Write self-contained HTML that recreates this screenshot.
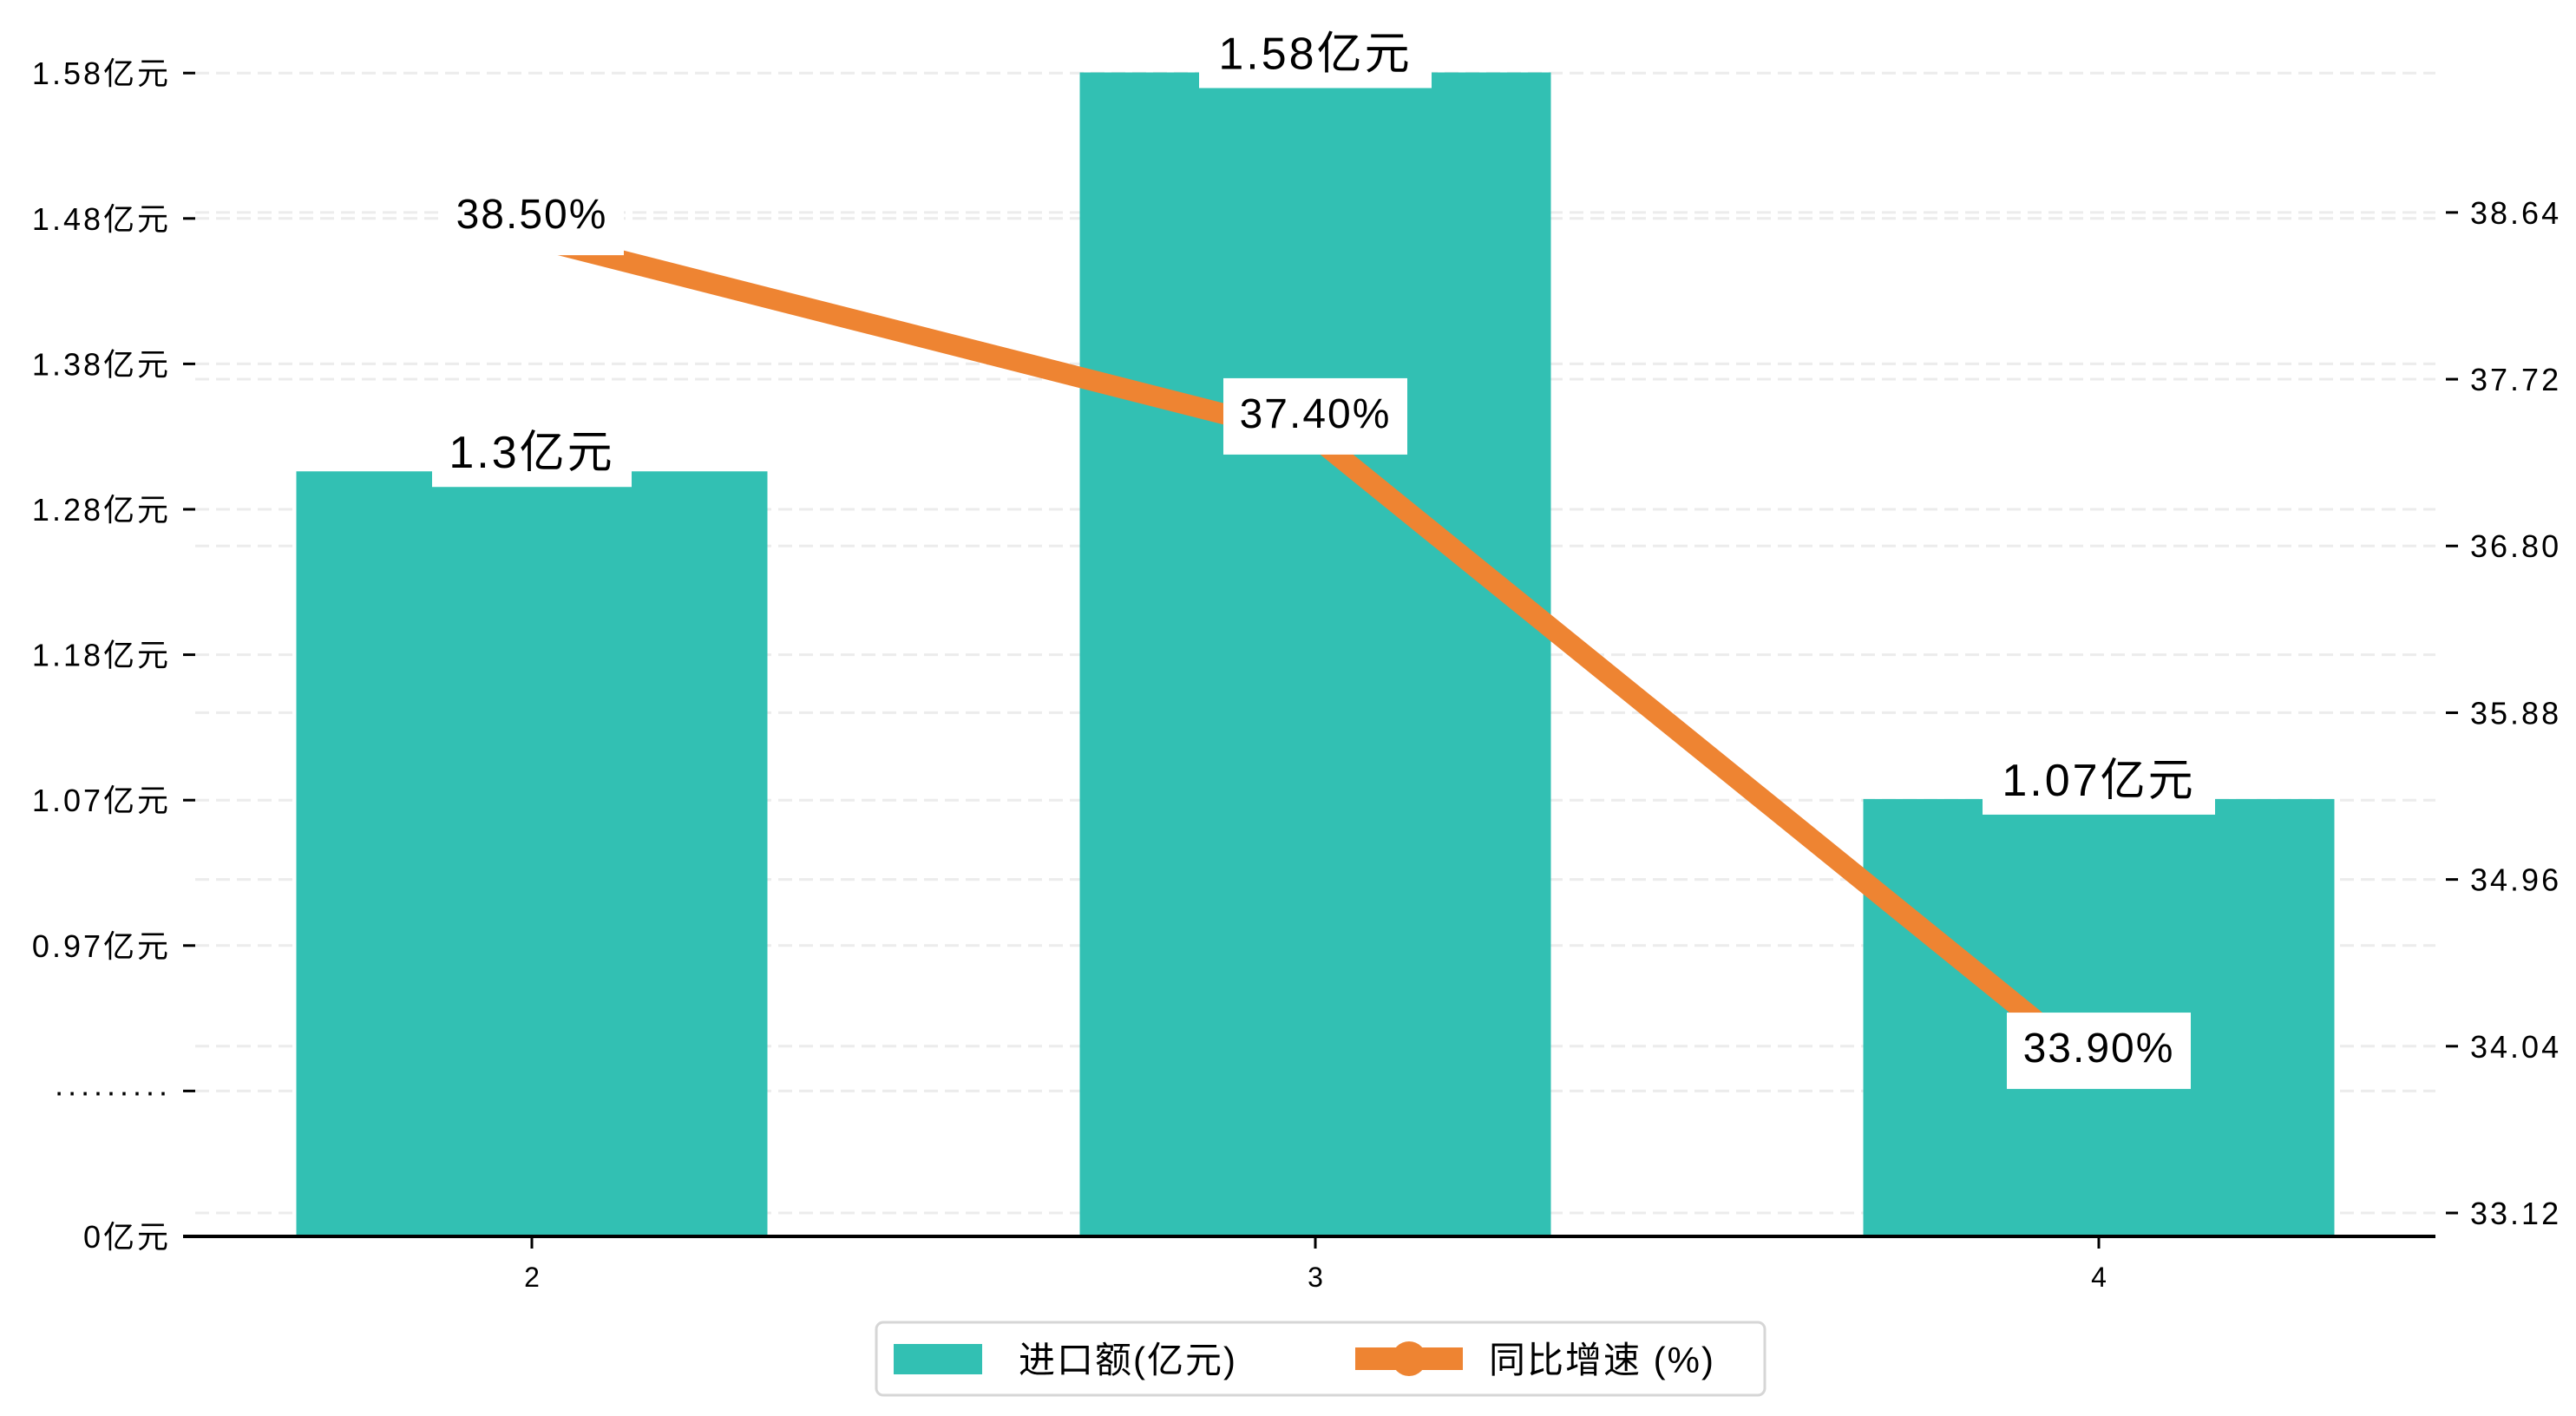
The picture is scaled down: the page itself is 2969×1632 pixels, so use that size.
<!DOCTYPE html>
<html><head><meta charset="utf-8">
<style>
html,body{margin:0;padding:0;background:#fff;}
svg{display:block;font-family:"Liberation Sans","WenQuanYi Zen Hei","Noto Sans CJK SC",sans-serif;}
</style></head>
<body>
<svg id="chart" width="2969" height="1632" viewBox="0 0 2969 1632" xmlns="http://www.w3.org/2000/svg">
<g id="grid"></g>
<g id="bars"></g>
<g id="line"></g>
<g id="axes"></g>
<g id="labels"></g>
<g id="legend">
  <rect x="1010" y="1524" width="1024" height="84" rx="8" fill="#fff" stroke="#d6d6d6" stroke-width="3"/>
  <rect x="1030" y="1549" width="102" height="35" fill="#32c0b3"/>
  <text x="1174" y="1582" font-size="42" fill="#000" letter-spacing="2">进口额(亿元)</text>
  <line x1="1562" y1="1566" x2="1686" y2="1566" stroke="#ee8432" stroke-width="26"/>
  <circle cx="1624" cy="1566" r="20" fill="#ee8432"/>
  <text x="1716" y="1582" font-size="42" fill="#000" letter-spacing="2">同比增速 (%)</text>
</g>
</svg>
<script>
const categories = ["2", "3", "4"];
const importValues = [1.3, 1.58, 1.07];
const growthValues = [38.5, 37.4, 33.9];
const leftTickLabels = ["0亿元", "·········", "0.97亿元", "1.07亿元", "1.18亿元", "1.28亿元", "1.38亿元", "1.48亿元", "1.58亿元"];
const rightTicks = [33.12, 34.04, 34.96, 35.88, 36.80, 37.72, 38.64];

const NS = "http://www.w3.org/2000/svg";
const X0 = 225, X1 = 2807, Y0 = 1425;
const catStep = 903, catStart = 613, barW = 543;
function xPos(i){ return catStart + i * catStep; }
function yLeft(v){ return Y0 - (v - 0.763) * 1642; }
function yRight(v){ return 1398 - (v - 33.12) * 208.9; }
function yLeftTick(i){ return Y0 - i * 167.6; }
function mk(tag, attrs, parent){
  const e = document.createElementNS(NS, tag);
  for (const k in attrs) e.setAttribute(k, attrs[k]);
  parent.appendChild(e); return e;
}
const grid = document.getElementById('grid');
const bars = document.getElementById('bars');
const lineG = document.getElementById('line');
const axes = document.getElementById('axes');
const labels = document.getElementById('labels');

leftTickLabels.forEach((lab, i) => {
  const y = yLeftTick(i);
  if (i > 0) {
    const g = mk('line', {x1: X0, x2: X1, y1: y, y2: y, stroke: '#ececec', 'stroke-width': 3, 'stroke-dasharray': '16 8'}, grid);
    
    
  }
  const t = mk('line', {x1: X0 - 14, x2: X0, y1: y, y2: y, stroke: '#000', 'stroke-width': 3}, axes);
  
  
  const tx = mk('text', {x: X0 - 28, y: y + 13, 'font-size': 36, 'text-anchor': 'end', fill: '#000', 'letter-spacing': 3}, axes);
  
  
  tx.textContent = lab;
});
rightTicks.forEach(v => {
  const y = yRight(v);
  const g = mk('line', {x1: X0, x2: X1, y1: y, y2: y, stroke: '#ececec', 'stroke-width': 3, 'stroke-dasharray': '16 8'}, grid);
  
  
  const t = mk('line', {x1: X1 + 12, x2: X1 + 26, y1: y, y2: y, stroke: '#000', 'stroke-width': 3}, axes);
  
  
  const tx = mk('text', {x: X1 + 40, y: y + 13, 'font-size': 36, fill: '#000', 'letter-spacing': 3}, axes);
  
  
  tx.textContent = v.toFixed(2);
});
importValues.forEach((v, i) => {
  const x = xPos(i), y = yLeft(v);
  const r = mk('rect', {x: x - barW / 2, y: y, width: barW, height: Y0 - y, fill: '#32c0b3'}, bars);
  
  
  const lbl = v + '亿元';
  const w = lbl.length * 38 + 40;
  const bg = mk('rect', {x: x - w / 2, y: y - 50, width: w, height: 68, fill: '#fff'}, labels);
  
  
  const t = mk('text', {x: x, y: y - 4, 'font-size': 52, 'text-anchor': 'middle', fill: '#000', 'letter-spacing': 3}, labels);
  
  
  t.textContent = lbl;
});
const pts = growthValues.map((v, i) => xPos(i) + ',' + yRight(v)).join(' ');
const pl = mk('polyline', {points: pts, fill: 'none', stroke: '#ee8432', 'stroke-width': 24, 'stroke-linejoin': 'round'}, lineG);


growthValues.forEach((v, i) => {
  const x = xPos(i), y = yRight(v);
  const c = mk('circle', {cx: x, cy: y, r: 18, fill: '#ee8432'}, lineG);
  
  
  const ly = y - 28;
  const bg = mk('rect', {x: x - 106, y: ly - 40, width: 212, height: 88, fill: '#fff'}, labels);
  
  
  const t = mk('text', {x: x, y: ly + 17, 'font-size': 48, 'text-anchor': 'middle', fill: '#000', 'letter-spacing': 2}, labels);
  
  
  t.textContent = v.toFixed(2) + '%';
});
const ax = mk('line', {x1: X0 - 14, x2: X1, y1: Y0, y2: Y0, stroke: '#000', 'stroke-width': 4}, axes);


categories.forEach((c, i) => {
  const x = xPos(i);
  const t = mk('line', {x1: x, x2: x, y1: Y0, y2: Y0 + 14, stroke: '#000', 'stroke-width': 3}, axes);
  
  
  const tx = mk('text', {x: x, y: Y0 + 58, 'font-size': 32, 'text-anchor': 'middle', fill: '#000'}, axes);
  
  
  tx.textContent = c;
});
</script>
</body></html>
